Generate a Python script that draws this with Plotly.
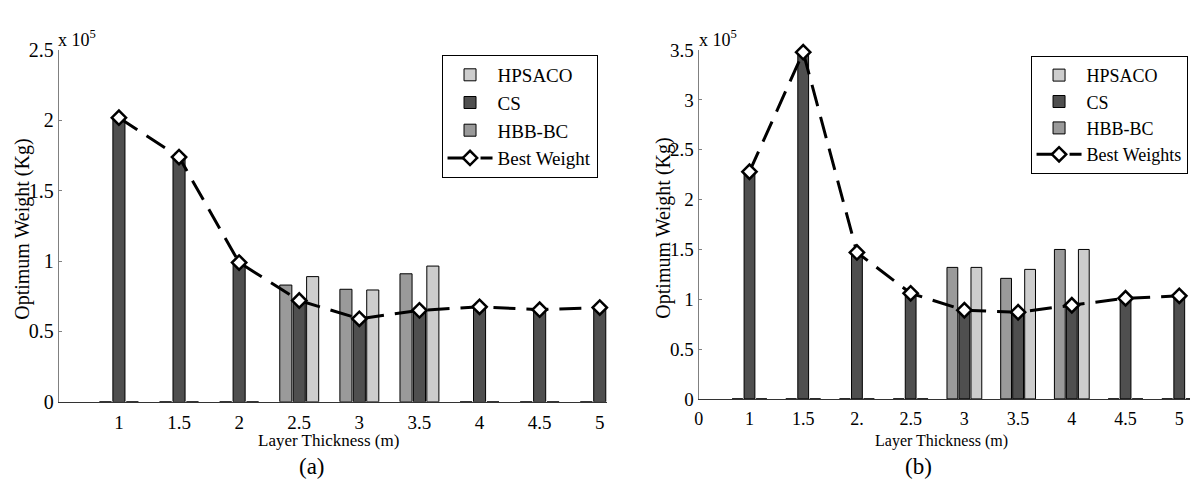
import plotly.graph_objects as go

# ---------------- data ----------------
thickness = [1, 1.5, 2, 2.5, 3, 3.5, 4, 4.5, 5]

# chart (a)
a_hbb = [0, 0, 0, 0.83e5, 0.80e5, 0.91e5, 0, 0, 0]
a_cs = [2.02e5, 1.74e5, 0.99e5, 0.73e5, 0.60e5, 0.66e5, 0.67e5, 0.655e5, 0.67e5]
a_hps = [0, 0, 0, 0.89e5, 0.795e5, 0.965e5, 0, 0, 0]
a_best = [2.02e5, 1.74e5, 0.99e5, 0.72e5, 0.59e5, 0.65e5, 0.675e5, 0.655e5, 0.67e5]

# chart (b)
b_hbb = [0, 0, 0, 0, 1.32e5, 1.21e5, 1.50e5, 0, 0]
b_cs = [2.28e5, 3.48e5, 1.47e5, 1.06e5, 0.89e5, 0.87e5, 0.94e5, 1.01e5, 1.035e5]
b_hps = [0, 0, 0, 0, 1.32e5, 1.30e5, 1.50e5, 0, 0]
b_best = [2.28e5, 3.48e5, 1.47e5, 1.06e5, 0.89e5, 0.87e5, 0.94e5, 1.01e5, 1.035e5]

a_ytickvals = [0, 0.5e5, 1e5, 1.5e5, 2e5, 2.5e5]
a_yticktext = ["0", "0.5", "1", "1.5", "2", "2.5"]
b_ytickvals = [0, 0.5e5, 1e5, 1.5e5, 2e5, 2.5e5, 3e5, 3.5e5]
b_yticktext = ["0", "0.5", "1", "1.5", "2", "2.5", "3", "3.5"]

a_xtickvals = [1, 1.5, 2, 2.5, 3, 3.5, 4, 4.5, 5]
a_xticktext = ["1", "1.5", "2", "2.5", "3", "3.5", "4", "4.5", "5"]
b_xstart = 0.527
b_xtickvals = [b_xstart, 1, 1.5, 2, 2.5, 3, 3.5, 4, 4.5, 5]
b_xticktext = ["0", "1", "1.5", "2.", "2.5", "3", "3.5", "4", "4.5", "5"]

# ---------------- style ----------------
FONT = "Liberation Serif, Times New Roman, serif"
C_HPS = "#cdcdcd"
C_CS = "#4f4f4f"
C_HBB = "#9a9a9a"
W, H = 1192, 494

fig = go.Figure()

def add_panel(xa, ya, leg, hbb, cs, hps, best, best_name):
    for name, vals, col, rank in [("HBB-BC", hbb, C_HBB, 3), ("CS", cs, C_CS, 2), ("HPSACO", hps, C_HPS, 1)]:
        fig.add_trace(go.Bar(
            x=thickness, y=vals, name=name, xaxis=xa, yaxis=ya, legend=leg,
            legendrank=rank, offsetgroup=name + xa,
            marker=dict(color=col, line=dict(color="black", width=1)),
        ))
    fig.add_trace(go.Scatter(
        x=thickness, y=best, name=best_name, xaxis=xa, yaxis=ya, legend=leg,
        legendrank=4, mode="lines+markers", cliponaxis=False,
        line=dict(color="black", width=3, dash="22px,11px"),
        marker=dict(symbol="diamond", size=11, color="white", line=dict(color="black", width=2.5)),
    ))

add_panel("x", "y", "legend", a_hbb, a_cs, a_hps, a_best, "Best Weight")
add_panel("x2", "y2", "legend2", b_hbb, b_cs, b_hps, b_best, "Best Weights")

def px_x(p):
    return p / W

def px_y(p):
    return 1 - p / H

def afont(size):
    return dict(family=FONT, size=size, color="black")

common_x = dict(showgrid=False, zeroline=False, showline=True, linecolor="#333333", linewidth=1,
                ticks="", tickmode="array", ticklabelstandoff=3)
common_y = dict(showgrid=False, zeroline=False, showline=True, linecolor="#808080", linewidth=1,
                ticks="inside", ticklen=3, tickcolor="#808080", tickmode="array")

fig.update_layout(
    width=W, height=H,
    margin=dict(l=0, r=0, t=0, b=0),
    paper_bgcolor="white", plot_bgcolor="white",
    barmode="group", bargap=0.33, bargroupgap=0.1,
    font=dict(family=FONT, color="black"),
    xaxis=dict(common_x, domain=[px_x(55), px_x(605)], range=[0.5, 5.06], tickfont=afont(19),
               tickvals=a_xtickvals, ticktext=a_xticktext, anchor="y"),
    yaxis=dict(common_y, domain=[px_y(409), px_y(41)], range=[0, 2.5e5], tickfont=afont(20),
               tickvals=a_ytickvals, ticktext=a_yticktext, anchor="x"),
    xaxis2=dict(common_x, domain=[px_x(697), px_x(1190)], range=[b_xstart, 5.10], tickfont=afont(18),
                tickvals=b_xtickvals, ticktext=b_xticktext, anchor="y2"),
    yaxis2=dict(common_y, domain=[px_y(406), px_y(41)], range=[0, 3.5e5], tickfont=afont(19),
                tickvals=b_ytickvals, ticktext=b_yticktext, anchor="x2"),
    legend=dict(x=px_x(439), y=px_y(46), xanchor="left", yanchor="top",
                bordercolor="black", borderwidth=1, bgcolor="white",
                font=afont(19), itemwidth=45, traceorder="normal"),
    legend2=dict(x=px_x(1030), y=px_y(47), xanchor="left", yanchor="top",
                 bordercolor="black", borderwidth=1, bgcolor="white",
                 font=afont(18), itemwidth=45, traceorder="normal"),
)

ann = []
def text(x, y, s, size, angle=0, xanchor="center", yanchor="middle"):
    ann.append(dict(x=px_x(x), y=px_y(y), xref="paper", yref="paper", text=s, showarrow=False,
                    textangle=angle, xanchor=xanchor, yanchor=yanchor, borderpad=0,
                    font=afont(size)))

text(326, 450, "Layer Thickness (m)", 17)
text(941, 450, "Layer Thickness (m)", 16)
text(309, 477, "(a)", 23)
text(918, 477, "(b)", 23)
text(19, 228, "Optimum Weight (Kg)", 20, angle=-90)
text(662, 227, "Optimum Weight (Kg)", 20, angle=-90)
text(53, 29, "x 10<sup>5</sup>", 18, xanchor="left")
text(696, 29, "x 10<sup>5</sup>", 18, xanchor="left")
fig.update_layout(annotations=ann)

fig.write_html("out.html")
